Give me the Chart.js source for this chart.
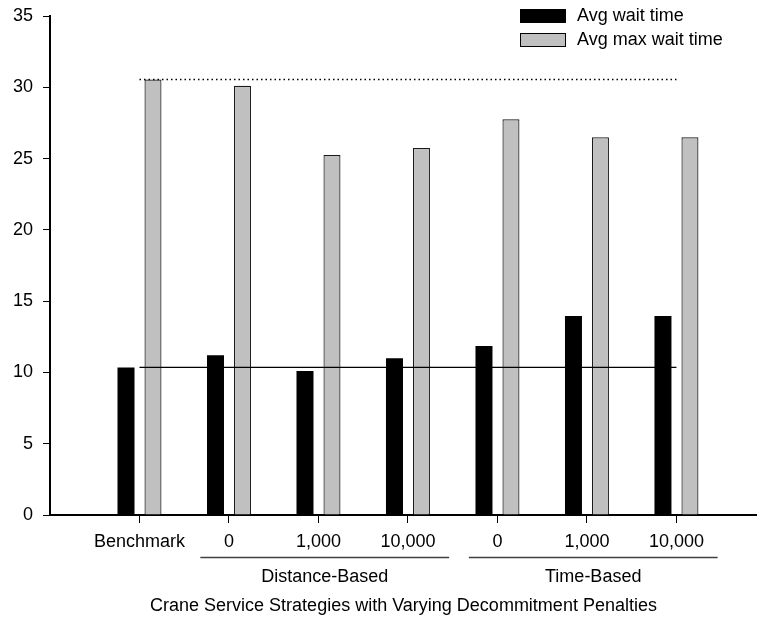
<!DOCTYPE html>
<html lang="en">
  <head>
    <meta charset="UTF-8" />
    <title>Crane Service Strategies</title>
    <script src="https://cdn.jsdelivr.net/npm/chart.js"></script>
    <style>
      body {
        margin: 0;
        background: #ffffff;
      }

      .chart-container {
        width: 757px;
        height: 630px;
      }
    </style>
  </head>
  <body>
    <div class="chart-container">
      <canvas id="wait_chart"></canvas>
    </div>

    <script>
      // categories along the x axis
      const categories = ["Benchmark", "0", "1,000", "10,000", "0", "1,000", "10,000"];
      // group labels under the penalty values (indices into categories)
      const groupNames = ["Distance-Based", "Time-Based"];
      const groupStart = [1, 4];
      const groupEnd = [3, 6];

      // series values
      const avgWait = [10.35, 11.2, 10.1, 11.0, 11.85, 13.95, 13.95];
      const avgMaxWait = [30.55, 30.1, 25.25, 25.75, 27.75, 26.5, 26.5];

      // benchmark reference levels
      const benchmarkWait = avgWait[0];
      const benchmarkMaxWait = avgMaxWait[0];

      const yTicks = [0, 5, 10, 15, 20, 25, 30, 35];

      const FONT = "'Liberation Sans', Arial, sans-serif";
      const FONT_SIZE = 18;

      // x positions: category i sits at i + 1 on a linear axis
      const toPoints = (arr) => arr.map((v, i) => ({ x: i + 1, y: v }));
      const refLine = (v) => [
        { x: 1, y: v },
        { x: categories.length, y: v },
      ];

      // draws legend, group underlines and group names
      const extrasPlugin = {
        id: "extras",
        afterDraw(chart) {
          const ctx = chart.ctx;
          const xs = chart.scales.x;
          const step = xs.getPixelForValue(2) - xs.getPixelForValue(1);
          ctx.save();
          ctx.font = FONT_SIZE + "px " + FONT;
          ctx.fillStyle = "#000";

          // group lines + names
          ctx.textAlign = "center";
          ctx.textBaseline = "middle";
          for (let g = 0; g < groupNames.length; g++) {
            const x0 = xs.getPixelForValue(groupStart[g] + 1) - step * 0.32;
            const x1 = xs.getPixelForValue(groupEnd[g] + 1) + step * 0.46;
            ctx.strokeStyle = "#404040";
            ctx.lineWidth = 1.5;
            ctx.beginPath();
            ctx.moveTo(x0, 557.5);
            ctx.lineTo(x1, 557.5);
            ctx.stroke();
            ctx.fillText(groupNames[g], (x0 + x1) / 2, 577);
          }

          // legend, bar datasets only
          ctx.textAlign = "left";
          const bars = chart.data.datasets.filter((d) => d.type === "bar");
          bars.forEach((d, i) => {
            const y = 9 + i * 24;
            ctx.fillStyle = d.backgroundColor;
            ctx.fillRect(520, y, 46, 14);
            ctx.strokeStyle = "#000";
            ctx.lineWidth = 1;
            ctx.strokeRect(520.5, y + 0.5, 45, 13);
            ctx.fillStyle = "#000";
            ctx.fillText(d.label, 577, y + 7.5);
          });
          ctx.restore();
        },
      };

      new Chart(document.getElementById("wait_chart").getContext("2d"), {
        data: {
          datasets: [
            {
              type: "line",
              label: "Benchmark wait",
              data: refLine(benchmarkWait),
              borderColor: "#000",
              borderWidth: 1.2,
              pointRadius: 0,
              order: 0,
            },
            {
              type: "line",
              label: "Benchmark max wait",
              data: refLine(benchmarkMaxWait),
              borderColor: "#000",
              borderWidth: 1.5,
              borderDash: [1.5, 3],
              pointRadius: 0,
              order: 0,
            },
            {
              type: "bar",
              label: "Avg wait time",
              data: toPoints(avgWait),
              backgroundColor: "#000000",
              borderColor: "#000000",
              borderWidth: 0,
              categoryPercentage: 0.603,
              barPercentage: 0.63,
              order: 1,
            },
            {
              type: "bar",
              label: "Avg max wait time",
              data: toPoints(avgMaxWait),
              backgroundColor: "#c0c0c0",
              borderColor: "#1a1a1a",
              borderWidth: 1.2,
              categoryPercentage: 0.603,
              barPercentage: 0.63,
              order: 1,
            },
          ],
        },
        options: {
          responsive: true,
          maintainAspectRatio: false,
          animation: false,
          layout: { padding: { top: 16, right: 0, left: 0, bottom: 0 } },
          plugins: {
            legend: { display: false },
            tooltip: { enabled: false },
          },
          scales: {
            x: {
              type: "linear",
              offset: false,
              min: 0,
              max: 7.9,
              afterBuildTicks(scale) {
                scale.ticks = categories.map((c, i) => ({ value: i + 1 }));
              },
              afterFit(scale) {
                scale.height = 115;
              },
              grid: {
                display: true,
                offset: false,
                drawOnChartArea: false,
                drawTicks: true,
                tickLength: 8,
                color: "#000",
              },
              border: { display: true, color: "#000", width: 2 },
              ticks: {
                autoSkip: false,
                maxRotation: 0,
                padding: 8,
                color: "#000",
                font: { family: FONT, size: FONT_SIZE },
                callback: (v) => categories[v - 1],
              },
              title: {
                display: true,
                text: "Crane Service Strategies with Varying Decommitment Penalties",
                color: "#000",
                font: { family: FONT, size: FONT_SIZE },
                padding: { top: 0, bottom: 13 },
              },
            },
            y: {
              min: 0,
              max: 35,
              afterBuildTicks(scale) {
                scale.ticks = yTicks.map((v) => ({ value: v }));
              },
              afterFit(scale) {
                scale.width = 50;
                // keep the top label from pushing the plot down
                scale.paddingTop = 0;
                scale.paddingBottom = 0;
              },
              grid: {
                display: true,
                drawOnChartArea: false,
                drawTicks: true,
                tickLength: 7,
                color: "#000",
              },
              border: { display: true, color: "#000", width: 2 },
              ticks: {
                padding: 10,
                color: "#000",
                font: { family: FONT, size: FONT_SIZE },
              },
            },
          },
        },
        plugins: [extrasPlugin],
      });
    </script>
  </body>
</html>
